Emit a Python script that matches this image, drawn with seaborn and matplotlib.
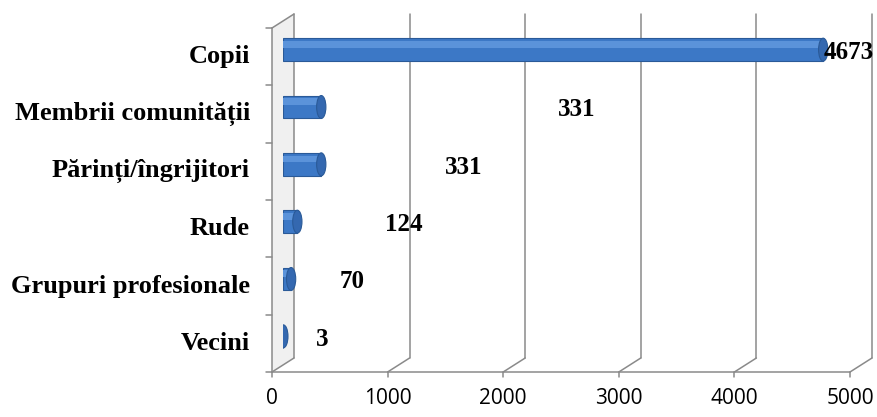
import numpy as np
import pandas as pd
import matplotlib
matplotlib.use("Agg")
import matplotlib.pyplot as plt
import seaborn as sns
from matplotlib.transforms import offset_copy, blended_transform_factory, IdentityTransform
from matplotlib.lines import Line2D
from matplotlib.patches import Polygon, Ellipse, Rectangle

# data
categories = ["Copii", "Membrii comunității", "Părinți/îngrijitori",
              "Rude", "Grupuri profesionale", "Vecini"]
values = [4673, 331, 331, 124, 70, 3]
x_ticks = [0, 1000, 2000, 3000, 4000, 5000]
# x (data units) where the data labels sit in the original chart
label_x = [4673, 2540, 1565, 1045, 600, 340]

df = pd.DataFrame({"categorie": categories, "numar": values})

sns.set_theme(style="white")
plt.rcParams["font.family"] = ["Liberation Serif", "DejaVu Serif"]

W, H = 877, 417
fig = plt.figure(figsize=(W / 100, H / 100), dpi=100)
ax = fig.add_axes([283 / W, (H - 365) / H, 578 / W, 344 / H])

sns.barplot(data=df, y="categorie", x="numar", order=categories, orient="h",
            width=0.4, color="#3c78c6", edgecolor="#2a5a98", linewidth=0.8,
            saturation=1, ax=ax)
ax.set_xlim(0, 5000)
ax.set_ylim(len(categories) - 0.5, -0.5)
ax.set_axis_off()

# cylinder look: light band on the upper half, rounded end cap
cap_w = 80
for p in list(ax.patches):
    x0, y0, w, h = p.get_x(), p.get_y(), p.get_width(), p.get_height()
    ax.add_patch(Rectangle((x0, y0 + h * 0.12), w, h * 0.3,
                           facecolor="#5b93da", edgecolor="none", zorder=p.get_zorder() + 0.1))
    ax.add_patch(Ellipse((x0 + w, y0 + h / 2), cap_w, h,
                         facecolor="#3468b0", edgecolor="#2a5a98", lw=0.8,
                         zorder=p.get_zorder() + 0.2))

# fake 3D frame (Excel style)
DX, DY = 11, 7
grey = "#8a8a8a"
trans = blended_transform_factory(ax.transData, ax.transAxes)
D = np.array([DX, DY])


def seg(p, q, **kw):
    fig.add_artist(Line2D([p[0], q[0]], [p[1], q[1]], transform=IdentityTransform(),
                          color=grey, lw=1.1, zorder=-1, **kw))


# left wall shading
fb = trans.transform((0, 0)) - D
ft = trans.transform((0, 1)) - D
bt = trans.transform((0, 1)) + D
bb = trans.transform((0, 0)) + D
fig.add_artist(Polygon([fb, ft, bt, bb], closed=True, transform=IdentityTransform(),
                       facecolor="#f0f0f0", edgecolor="none", zorder=-2))
seg(fb, ft)
seg(ft, bt)
for b in np.arange(-0.5, len(categories)):
    p = ax.transData.transform((0, b)) - D
    seg(p, p - np.array([6, 0]))

for t in x_ticks:
    b0 = trans.transform((t, 0)) + D
    b1 = trans.transform((t, 1)) + D
    f0 = trans.transform((t, 0)) - D
    seg(b0, b1)
    seg(b0, f0)
    seg(f0, f0 - np.array([0, 5]))
seg(trans.transform((0, 0)) - D, trans.transform((5000, 0)) - D)

# x tick labels on the front edge
xt = offset_copy(trans, fig=fig, x=-DX, y=-(DY + 26), units="dots")
for t in x_ticks:
    ax.text(t, 0, str(t), transform=xt, ha="center", va="center",
            fontsize=15, family=["Open Sans", "DejaVu Sans"], color="#000000")

# category labels
yt = offset_copy(ax.transData, fig=fig, x=-(DX + 22), y=-DY, units="dots")
for i, c in enumerate(categories):
    ax.text(0, i, c, transform=yt, ha="right", va="center",
            fontsize=19, fontweight="bold", color="black")

# data labels
for i, (lx, v) in enumerate(zip(label_x, values)):
    ax.text(lx, i + 0.05, str(v), ha="left" if i == 0 else "center", va="center",
            fontsize=18, fontweight="bold", color="black")

fig.savefig("out.png", dpi=100)
